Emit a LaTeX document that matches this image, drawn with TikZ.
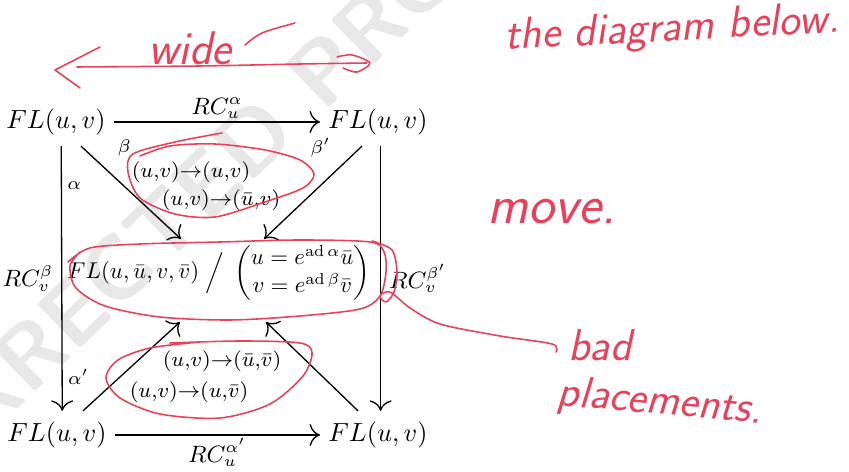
\documentclass[tikz,border=0pt]{standalone}
\usepackage{amsmath}
\usepackage{xcolor}
\usepackage{tikz}
\usetikzlibrary{arrows.meta,positioning,calc}
\definecolor{pen}{HTML}{E8415A}
\definecolor{stamp}{HTML}{E8E8E8}

\begin{document}
\begin{tikzpicture}[x=0.0134cm, y=-0.0134cm,
    obj/.style={inner xsep=3pt, inner ysep=4pt},
    lbl/.style={font=\small, inner sep=1pt},
    glbl/.style={font=\scriptsize, inner sep=2pt},
    swap/.style={font=\footnotesize, inner sep=1pt},
    map/.style={line width=0.5pt, -{To[length=4pt]}},
    note/.style={text=pen, font=\sffamily\slshape, inner sep=0pt},
    scrawl/.style={draw=pen, line width=0.6pt, line cap=round, line join=round}
]
    \useasboundingbox (0,0) rectangle (849,472);

    % proof stamp
    \node[text=stamp, rotate=44, font=\fontsize{34}{34}\selectfont\sffamily\bfseries] (stampnode) at (200,190) {CORRECTED PROOF};

    % corners
    \node[obj] (tl) at (56,122) {$FL(u,v)$};
    \node[obj] (tr) at (378,122) {$FL(u,v)$};
    \node[obj] (bl) at (57,435) {$FL(u,v)$};
    \node[obj] (br) at (378,435) {$FL(u,v)$};

    % quotient in the middle
    \node[obj, scale=0.87, transform shape] (mid) at (219,273) {$FL(u,\bar u,v,\bar v)\;\Big/\;\begin{pmatrix} u=e^{\operatorname{ad}\alpha}\bar u\\ v=e^{\operatorname{ad}\beta}\bar v\end{pmatrix}$};
    \coordinate (mtl) at (181,239);
    \coordinate (mtr) at (264,239);
    \coordinate (mbl) at (180,322);
    \coordinate (mbr) at (266,322);

    % sides
    \draw[map] (tl) -- node[lbl, above] {$RC_u^{\alpha}$} (tr);
    \draw[map] (bl) -- node[lbl, below] {$RC_u^{\alpha'}$} (br);
    \draw[map] ([xshift=2pt]tl.south) -- node[glbl, right, pos=0.15] {$\alpha$} node[glbl, right, pos=0.87] {$\alpha'$} node[lbl, left=2pt] {$RC_v^{\beta}$} ([xshift=2pt]bl.north);
    \draw[map] ([xshift=1pt]tr.south) -- node[lbl, right=2pt] {$RC_v^{\beta'}$} ([xshift=1pt]br.north);

    % diagonals
    \draw[map] ($(tl.south)+(25,0)$) -- node[glbl, pos=0.02, right=11pt] {$\beta$} (mtl);
    \draw[map] ($(tr.south)+(-16,0)$) -- node[glbl, pos=0.02, left=9pt] {$\beta'$} (mtr);
    \draw[map] ($(bl.north)+(26,0)$) -- (mbl);
    \draw[map] ($(br.north)+(-20,0)$) -- (mbr);

    \node[swap] (s1) at (191,172) {$(u{,}v)\mathord{\to}(u{,}v)$};
    \node[swap] (s2) at (221,200) {$(u{,}v)\mathord{\to}(\bar u{,}v)$};
    \node[swap] (s3) at (222,361) {$(u{,}v)\mathord{\to}(\bar u{,}\bar v)$};
    \node[swap] (s4) at (189,392) {$(u{,}v)\mathord{\to}(u{,}\bar v)$};

    % red pen marks
    \node[note, font=\sffamily\slshape\fontsize{18}{18}\selectfont] (wide) at (190,48) {wide};
    \draw[scrawl] plot[smooth] coordinates {(245,45) (262,33) (295,23)};
    \draw[scrawl] plot[smooth] coordinates {(77,67) (200,66) (300,64) (367,63)};
    \draw[scrawl] (100,47) -- (55,70) -- (80,88);
    \draw[scrawl] plot[smooth] coordinates {(337,57) (352,55) (370,63) (357,72) (343,68)};

    \node[note, font=\sffamily\slshape\fontsize{17}{17}\selectfont, rotate=3] (below) at (672,30) {the diagram below.};
    \node[note, font=\sffamily\slshape\fontsize{21}{21}\selectfont] (move) at (552,212) {move.};
    \node[note, font=\sffamily\slshape\fontsize{17}{17}\selectfont] (bad) at (600,345) {bad};
    \node[note, font=\sffamily\slshape\fontsize{17}{17}\selectfont, rotate=-5] (place) at (660,403) {placements.};

    \draw[scrawl] plot[smooth] coordinates {(222,133) (175,142) (133,154) (128,172) (140,198) (175,214) (215,217) (262,203) (303,188) (314,174) (300,160) (265,150) (215,144) (170,146) (140,156)};
    \draw[scrawl] plot[smooth] coordinates {(80,252) (70,266) (76,288) (105,306) (160,317) (230,320) (300,316) (360,309) (380,296) (386,272) (384,252) (370,242) (300,240) (220,242) (140,244) (90,248) (68,262)};
    \draw[scrawl] plot[smooth] coordinates {(372,241) (392,250) (397,272) (394,292) (386,302) (380,296) (390,292) (410,308) (440,324) (500,336) (552,344) (556,352)};
    \draw[scrawl] plot[smooth] coordinates {(170,343) (240,341) (300,343) (312,353) (303,376) (270,404) (220,418) (160,414) (120,398) (106,378) (118,360) (150,348) (200,342)};
\end{tikzpicture}
\end{document}
